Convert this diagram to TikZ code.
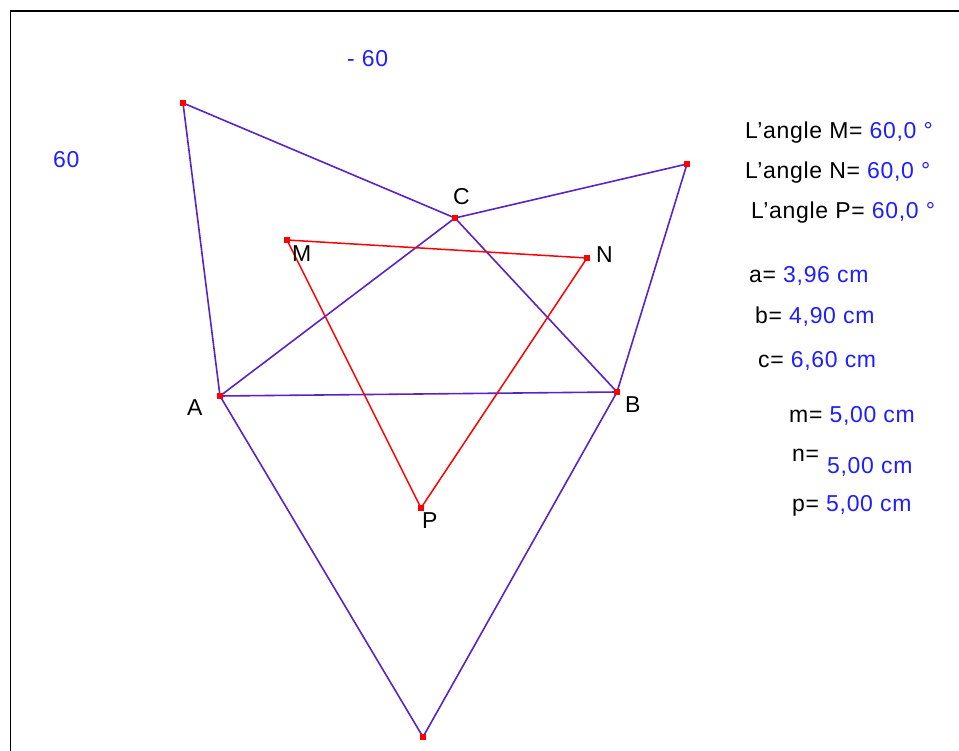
\documentclass[tikz,border=0pt]{standalone}
\usepackage{fontspec}
\setmainfont{Liberation Sans}[LetterSpace=3]
\definecolor{vio}{RGB}{88,36,200}
\definecolor{val}{RGB}{30,30,255}
\tikzset{
  txt/.style={anchor=base west,inner sep=0pt,font=\fontsize{23}{27}\selectfont},
  pt/.style={inner sep=0pt,minimum size=6pt,fill=red,draw=none,rectangle},
  side/.style={draw=vio,line width=1.6pt},
  tri/.style={draw=red,line width=1.5pt},
}
\begin{document}
\begin{tikzpicture}[x=1pt,y=-1pt]
\useasboundingbox (0,0) rectangle (959,751);
\fill[white] (0,0) rectangle (959,751);
% frame
\draw[line width=1.6pt] (10.5,760) -- (10.5,11) -- (970,11);
% points
\coordinate (T1) at (183,103);
\coordinate (T2) at (687,164);
\coordinate (C) at (455,218);
\coordinate (A) at (220,396);
\coordinate (B) at (617,392);
\coordinate (D) at (423,737);
\coordinate (M) at (287,240);
\coordinate (N) at (587,258);
\coordinate (P) at (421,508);
% purple sides
\draw[side] (T1) -- (A) -- (D) -- (B) -- (T2) -- (C) -- (T1);
\draw[side] (A) -- (C) -- (B) -- (A);
% red triangle
\draw[tri] (M) -- (N) -- (P) -- cycle;
% point markers
\foreach \p in {T1,T2,C,A,B,D,M,N,P} \node[pt] (m\p) at (\p) {};
% point labels
\node[txt] (lC) at (453,205) {C};
\node[txt] (lM) at (292,262) {M};
\node[txt] (lN) at (596,263) {N};
\node[txt] (lA) at (187,415) {A};
\node[txt] (lB) at (625,413) {B};
\node[txt] (lP) at (422,528) {P};
% angle values
\node[txt,text=val] (t1) at (347,67) {- 60};
\node[txt,text=val] (t2) at (53,168) {60};
% measurements
\node[txt] (am) at (745,139) {L'angle M= \textcolor{val}{60,0 °}};
\node[txt] (an) at (745,179) {L'angle N= \textcolor{val}{60,0 °}};
\node[txt] (ap) at (751,219) {L'angle P= \textcolor{val}{60,0 °}};
\node[txt] (la) at (749,283) {a= \textcolor{val}{3,96 cm}};
\node[txt] (lb) at (755,324) {b= \textcolor{val}{4,90 cm}};
\node[txt] (lc) at (758,367) {c= \textcolor{val}{6,60 cm}};
\node[txt] (lm) at (789,422) {m= \textcolor{val}{5,00 cm}};
\node[txt] (ln) at (792,461) {n=};
\node[txt,text=val] (lnv) at (827,473) {5,00 cm};
\node[txt] (lp) at (792,511) {p= \textcolor{val}{5,00 cm}};
\end{tikzpicture}
\end{document}
